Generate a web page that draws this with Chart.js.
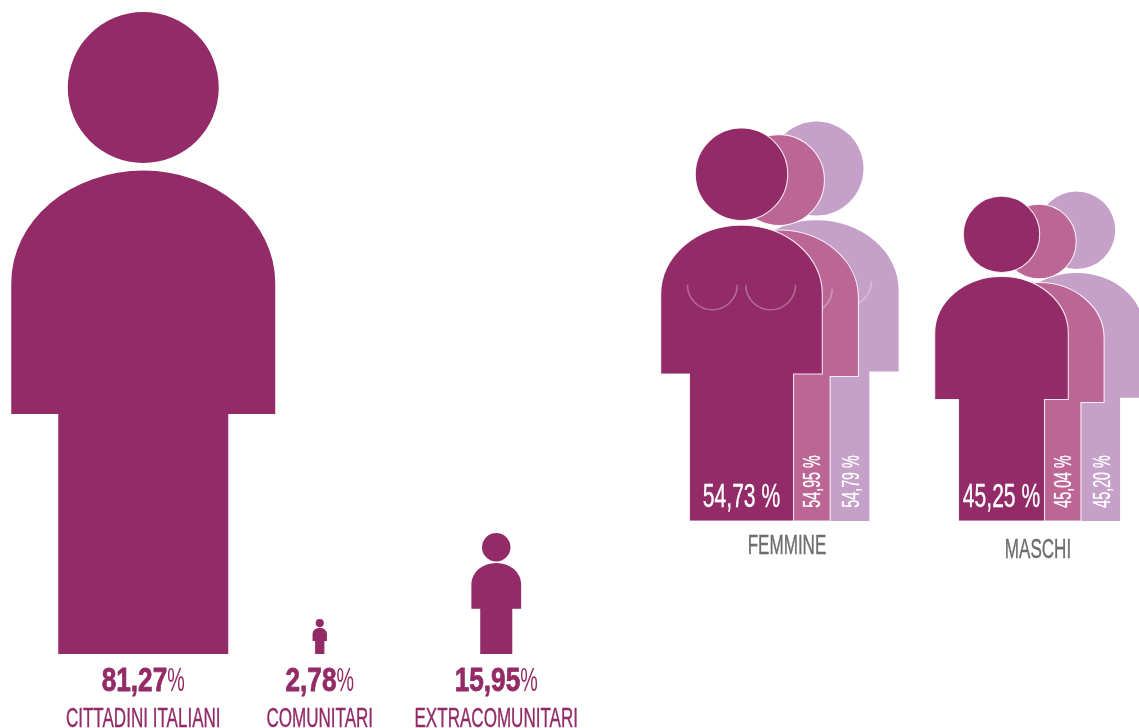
<!DOCTYPE html>
<html lang="it">
<head>
<meta charset="utf-8">
<title>Cittadinanza e genere</title>
<script src="https://cdn.jsdelivr.net/npm/chart.js@4/dist/chart.umd.min.js"></script>
<style>
  html, body { margin: 0; width: 1139px; height: 728px; overflow: hidden; background: #fff; }
  canvas { position: absolute; top: 0; }
  #citizenship { left: 0; }
  #gender { left: 649px; }
</style>
</head>
<body>
<canvas id="citizenship" width="600" height="728"></canvas>
<canvas id="gender" width="520" height="728"></canvas>
<script>
/* ── Dati ─────────────────────────────────────────────── */
const CITIZEN_LABELS = ['CITTADINI ITALIANI', 'COMUNITARI', 'EXTRACOMUNITARI'];
const CITIZEN_VALUES = [81.27, 2.78, 15.95];

const GENDER_LABELS = ['FEMMINE', 'MASCHI'];
const GENDER_FRONT  = [54.73, 45.25];
const GENDER_MIDDLE = [54.95, 45.04];
const GENDER_BACK   = [54.79, 45.20];

/* ── Colori e font ────────────────────────────────────── */
const PLUM = '#922B67', ROSE = '#BC6695', LILAC = '#C5A0C9', GREY = '#6D6E71';
const FONT = '"Liberation Sans", sans-serif';

// 54.73 -> "54,73"
const fmt = v => v.toFixed(2).replace('.', ',');

/* ── Omino: una barra disegnata come figura umana ─────── */
class PersonElement extends Chart.BarElement {
  static id = 'person';

  draw(ctx) {
    const { x, y, base } = this.getProps(['x', 'y', 'base']);
    const { backgroundColor, borderColor, borderWidth } = this.options;
    const h = base - y;

    const bodyTop = y + 0.247 * h, shoulder = y + 0.422 * h, armEnd = y + 0.626 * h;
    const bodyW = 0.2056 * h, legW = 0.1324 * h, headR = 0.1176 * h;

    ctx.save();
    ctx.beginPath();
    ctx.moveTo(x - legW, base);
    ctx.lineTo(x - legW, armEnd);
    ctx.lineTo(x - bodyW, armEnd);
    ctx.lineTo(x - bodyW, shoulder);
    ctx.ellipse(x, shoulder, bodyW, shoulder - bodyTop, 0, Math.PI, 2 * Math.PI);
    ctx.lineTo(x + bodyW, armEnd);
    ctx.lineTo(x + legW, armEnd);
    ctx.lineTo(x + legW, base);
    ctx.closePath();
    ctx.moveTo(x + headR, y + headR);
    ctx.arc(x, y + headR, headR, 0, 2 * Math.PI);

    ctx.fillStyle = backgroundColor;
    ctx.fill();
    if (borderWidth > 0) {
      ctx.strokeStyle = borderColor;
      ctx.lineWidth = borderWidth;
      ctx.stroke();
    }

    // seno, solo per le figure femminili
    if (this.female) {
      ctx.strokeStyle = 'rgba(255,255,255,0.3)';
      ctx.lineWidth = 1.6;
      [-1, 1].forEach(side => {
        ctx.beginPath();
        ctx.arc(x + side * 0.0742 * h, y + 0.399 * h, 0.0635 * h, 0, Math.PI);
        ctx.stroke();
      });
    }
    ctx.restore();
  }
}

class PersonController extends Chart.BarController {
  static id = 'person';
  static defaults = { dataElementType: 'person' };
  static overrides = Chart.BarController.overrides;

  draw() {
    const labels = this.chart.data.labels;
    this._cachedMeta.data.forEach((bar, i) => { bar.female = labels[i] === 'FEMMINE'; });
    super.draw();
  }
}

Chart.register(PersonElement, PersonController);

/* ── Testo condensato ─────────────────────────────────── */
function drawText(ctx, str, x, y, o) {
  ctx.save();
  ctx.translate(x, y);
  if (o.rotate) ctx.rotate(o.rotate);
  ctx.scale(o.squeeze, 1);
  ctx.font = `${o.weight || 'normal'} ${o.size}px ${FONT}`;
  ctx.fillStyle = o.color;
  ctx.textAlign = o.align || 'center';
  ctx.textBaseline = 'alphabetic';
  ctx.fillText(str, 0, 0);
  // il font compresso perde spessore: ripasso il contorno
  if (o.thicken) {
    ctx.strokeStyle = o.color;
    ctx.lineWidth = o.thicken;
    ctx.strokeText(str, 0, 0);
  }
  ctx.restore();
}

// numero in grassetto + "%" leggero, centrati insieme
function drawPercent(ctx, value, cx, y) {
  const num = fmt(value);
  const numSqueeze = 0.77, pctSqueeze = 0.58, size = 34;
  ctx.save();
  ctx.font = `bold ${size}px ${FONT}`;
  const numW = ctx.measureText(num).width * numSqueeze;
  ctx.font = `normal ${size}px ${FONT}`;
  const pctW = ctx.measureText('%').width * pctSqueeze;
  ctx.restore();
  const left = cx - (numW + pctW) / 2;
  drawText(ctx, num, left, y, { size, weight: 'bold', color: PLUM, squeeze: numSqueeze, align: 'left', thicken: 0.8 });
  drawText(ctx, '%', left + numW, y, { size, color: PLUM, squeeze: pctSqueeze, align: 'left' });
}

const citizenLabels = {
  id: 'citizenLabels',
  afterDatasetsDraw(chart) {
    const { ctx, chartArea } = chart;
    chart.getDatasetMeta(0).data.forEach((bar, i) => {
      drawPercent(ctx, CITIZEN_VALUES[i], bar.x, chartArea.bottom + 37);
      drawText(ctx, CITIZEN_LABELS[i], bar.x, chartArea.bottom + 73,
        { size: 27.5, color: PLUM, squeeze: 0.62, thicken: 0.4 });
    });
  },
};

// scarto dell'etichetta di categoria rispetto alla figura centrale
const CATEGORY_NUDGE = [{ dx: 8, dy: 33 }, { dx: -1, dy: 37 }];

const genderLabels = {
  id: 'genderLabels',
  afterDatasetsDraw(chart) {
    const { ctx } = chart;
    const [front, middle, back] = [0, 1, 2].map(i => chart.getDatasetMeta(i).data);

    GENDER_LABELS.forEach((label, i) => {
      const base = front[i].base;
      drawText(ctx, fmt(GENDER_FRONT[i]) + ' %', front[i].x, base - 14,
        { size: 34, color: '#fff', squeeze: 0.62, thicken: 0.4 });

      // le due figure dietro hanno il valore in verticale sulla gamba visibile
      [[middle[i], GENDER_MIDDLE[i]], [back[i], GENDER_BACK[i]]].forEach(([bar, v]) => {
        const legRight = bar.x + 0.1324 * (bar.base - bar.y);
        drawText(ctx, fmt(v) + ' %', legRight - 10, base - 39.5,
          { size: 23, color: '#fff', squeeze: 0.62, rotate: -Math.PI / 2, thicken: 0.3 });
      });

      drawText(ctx, label, middle[i].x + CATEGORY_NUDGE[i].dx, base + CATEGORY_NUDGE[i].dy,
        { size: 27.5, color: GREY, squeeze: 0.62, thicken: 0.4 });
    });
  },
};

/* ── Grafico sinistro: cittadinanza ───────────────────── */
const CITIZEN_AXIS_MIN = 0.78;

new Chart(document.getElementById('citizenship'), {
  type: 'person',
  data: {
    labels: CITIZEN_LABELS,
    datasets: [{
      data: CITIZEN_VALUES,
      backgroundColor: PLUM,
      borderWidth: 0,
      base: CITIZEN_AXIS_MIN,
      categoryPercentage: 1,
      barPercentage: 1,
      minBarLength: 35,
      clip: false,
    }],
  },
  options: {
    responsive: false,
    animation: false,
    layout: { padding: { left: 55, right: 15.5, top: 0, bottom: 74 } },
    plugins: { legend: { display: false }, tooltip: { enabled: false } },
    scales: {
      x: { type: 'category', offset: true, display: false },
      y: { type: 'linear', display: false, beginAtZero: false, min: CITIZEN_AXIS_MIN, max: 82.78 },
    },
  },
  plugins: [citizenLabels],
});

/* ── Grafico destro: femmine / maschi su tre livelli ──── */
const layer = (data, color, axis, border) => ({
  data,
  backgroundColor: color,
  borderColor: border,
  borderWidth: border ? 1.1 : 0,
  yAxisID: axis,
  categoryPercentage: 0.4327,
  barPercentage: 1,
  clip: false,
});

const hiddenAxis = max => ({ type: 'linear', display: false, beginAtZero: false, min: 0, max });

new Chart(document.getElementById('gender'), {
  type: 'person',
  data: {
    labels: GENDER_LABELS,
    datasets: [
      layer(GENDER_FRONT, PLUM, 'yFront', 'rgba(255,255,255,0.85)'),
      layer(GENDER_MIDDLE, ROSE, 'yMiddle', 'rgba(255,255,255,0.85)'),
      layer(GENDER_BACK, LILAC, 'yBack', null),
    ],
  },
  options: {
    responsive: false,
    animation: false,
    layout: { padding: { left: 0, right: 0, top: 0, bottom: 207 } },
    plugins: { legend: { display: false }, tooltip: { enabled: false } },
    scales: {
      x: { type: 'category', offset: true, display: false },
      yFront: hiddenAxis(72.56),
      yMiddle: hiddenAxis(74.1),
      yBack: hiddenAxis(71.47),
    },
  },
  plugins: [genderLabels],
});
</script>
</body>
</html>
